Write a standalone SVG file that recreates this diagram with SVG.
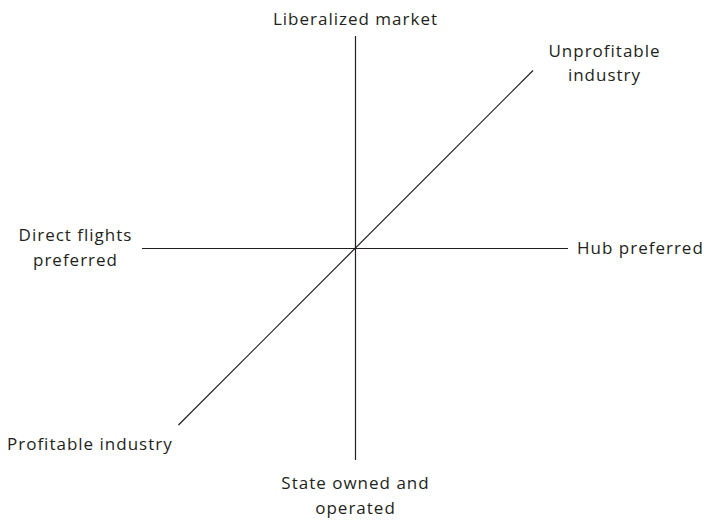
<svg xmlns="http://www.w3.org/2000/svg" width="704" height="520" viewBox="0 0 704 520">
<style>
.lbl{font-family:"Open Sans","Noto Sans",sans-serif;font-size:17px;letter-spacing:1px;fill:#231f20}
.ax{stroke:#231f20;stroke-width:1.2;fill:none}
</style>
<rect width="704" height="520" fill="#fff"/>
<g id="connectors">
<line class="ax" x1="355.5" y1="36" x2="355.5" y2="460"/>
<line class="ax" x1="142" y1="248.5" x2="568" y2="248.5"/>
<line class="ax" x1="178.5" y1="425" x2="533" y2="70.5"/>
</g>
<g id="liberalized"><text class="lbl" x="355.5" y="25" text-anchor="middle">Liberalized market</text></g>
<g id="unprofitable"><text class="lbl" x="604.5" y="57" text-anchor="middle">Unprofitable</text><text class="lbl" x="604.5" y="81" text-anchor="middle">industry</text></g>
<g id="hub"><text class="lbl" x="577" y="253.5">Hub preferred</text></g>
<g id="direct"><text class="lbl" x="75.5" y="241" text-anchor="middle">Direct flights</text><text class="lbl" x="75.5" y="266" text-anchor="middle">preferred</text></g>
<g id="profitable"><text class="lbl" x="7" y="449.5">Profitable industry</text></g>
<g id="state"><text class="lbl" x="355.5" y="489" text-anchor="middle">State owned and</text><text class="lbl" x="355.5" y="514" text-anchor="middle">operated</text></g>
</svg>
